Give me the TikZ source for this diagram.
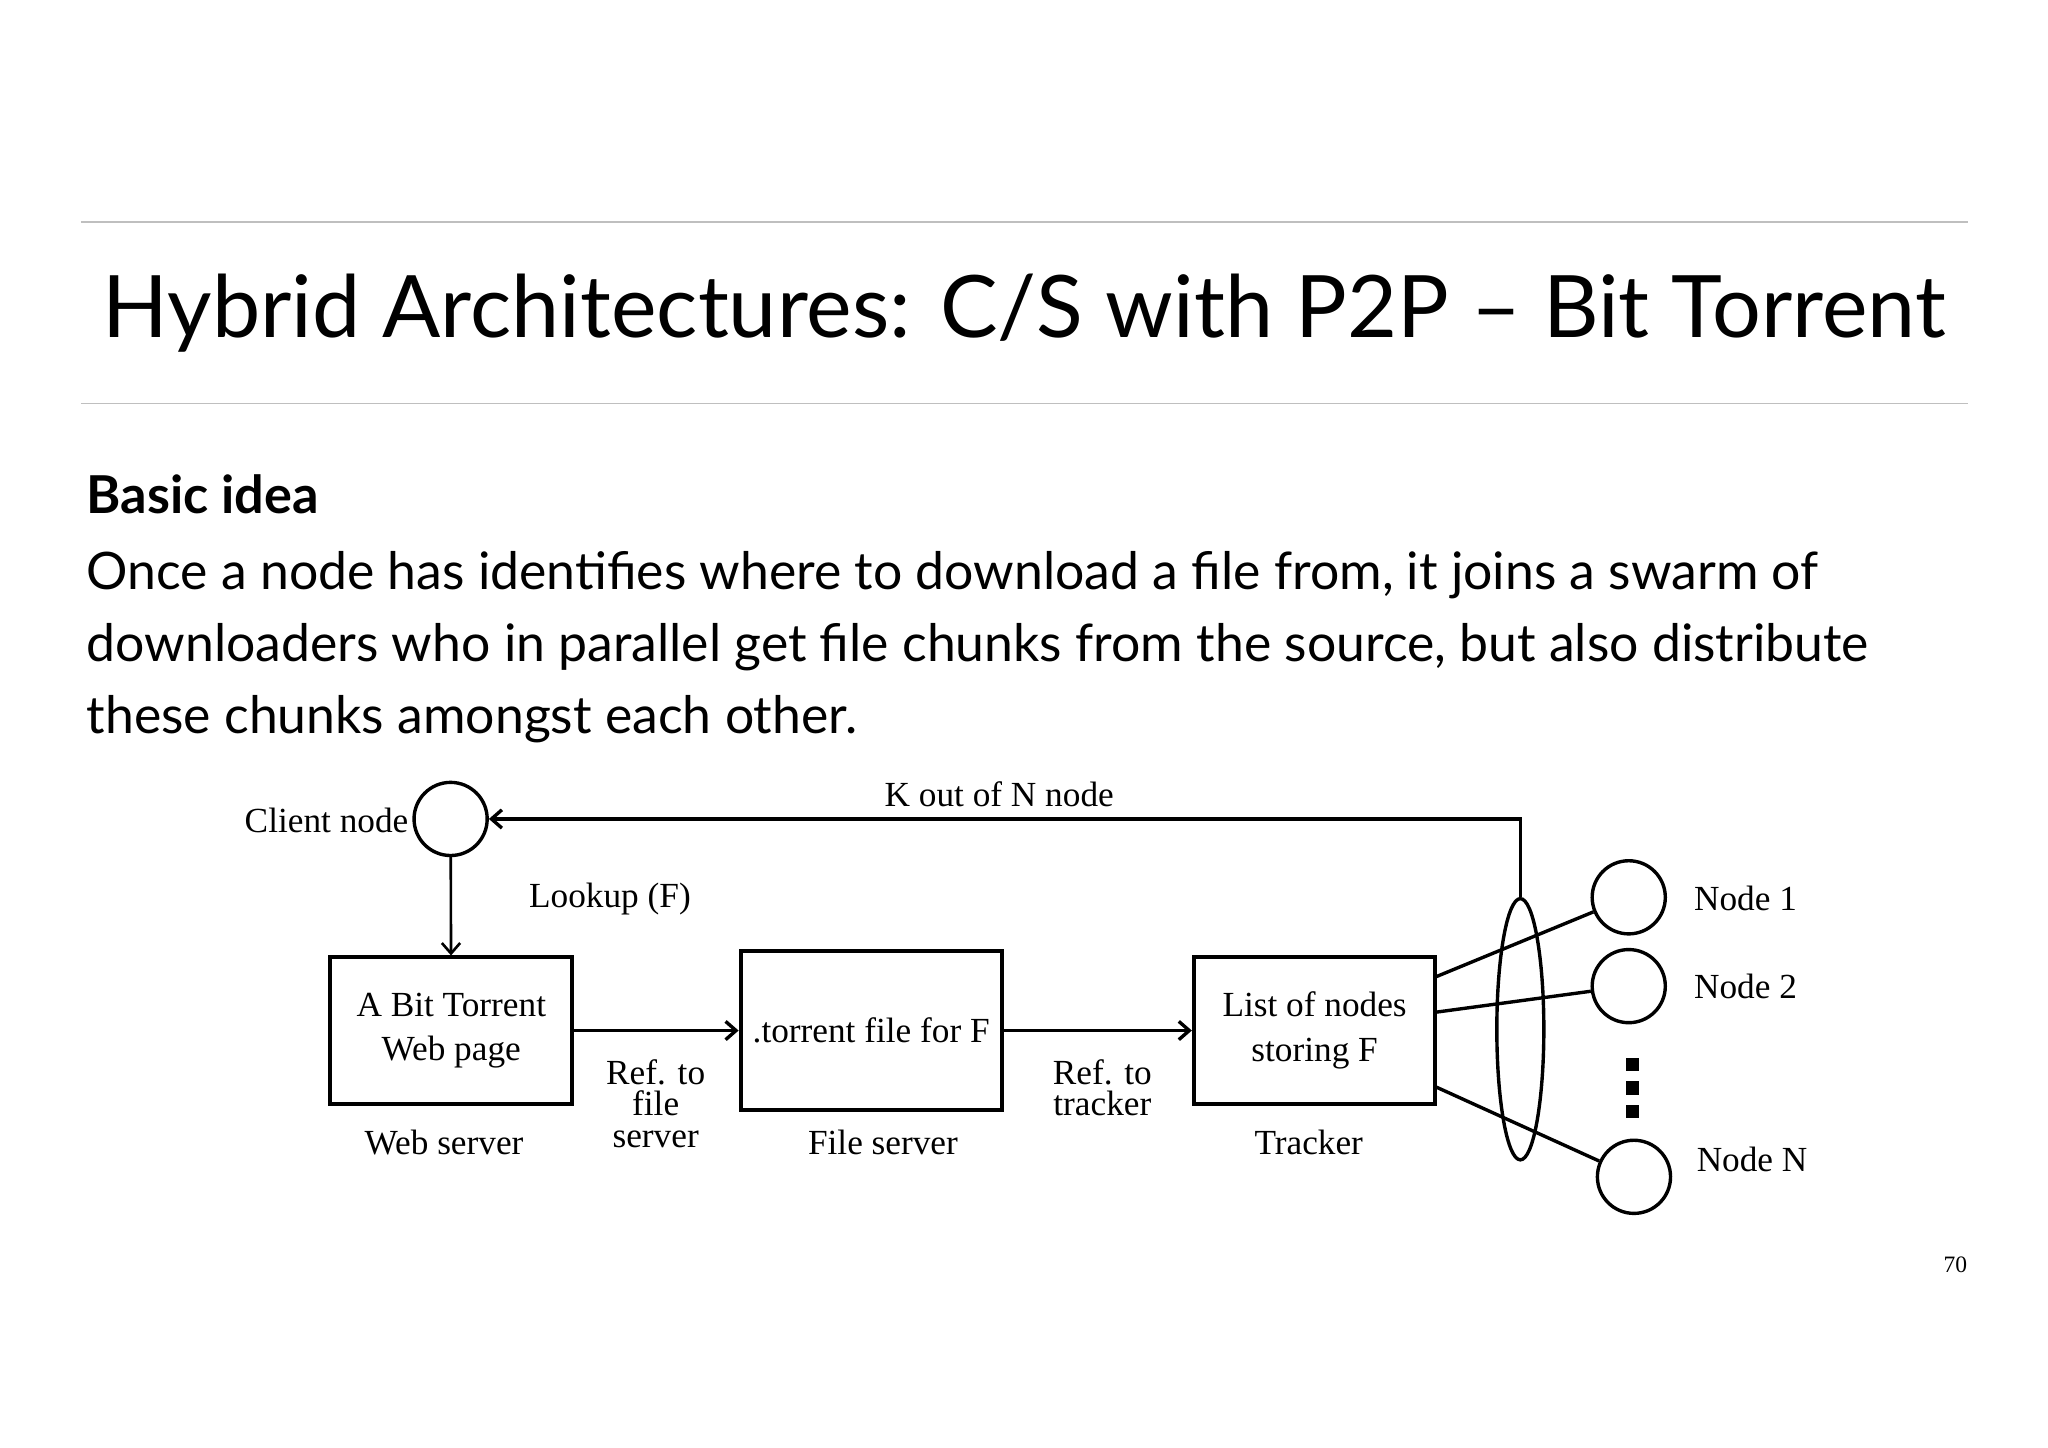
\documentclass[tikz,border=0pt]{standalone}
\usepackage{fontspec}
\usetikzlibrary{arrows.meta,shapes.geometric}
\setmainfont{Liberation Serif}
\newfontfamily\hum{Lato}
\begin{document}
\begin{tikzpicture}[x=0.5pt,y=-0.5pt,
  box/.style={draw,line width=1.5pt,minimum width=92.5pt,minimum height=56pt,align=center,inner sep=1pt,font=\fontsize{13.5}{17}\selectfont},
  circ/.style={draw,line width=1.3pt,circle,minimum size=28pt,inner sep=0pt},
  lab/.style={font=\fontsize{13.5}{12}\selectfont,align=center},
  arr/.style={line width=1.3pt,-{Straight Barb[length=4pt,width=7pt]}},
  con/.style={line width=1.3pt}]
\useasboundingbox (0,0) rectangle (1568,1108);
\draw[gray!50,line width=0.5pt] (62,170) -- (1507,170) (62,309) -- (1507,309);
\node[font=\hum\fontsize{33}{36}\selectfont] (title) at (784,240) {Hybrid Architectures: C/S with P2P – Bit Torrent};
\node[anchor=base west,inner sep=0pt,font=\hum\bfseries\fontsize{20}{22}\selectfont] (basic) at (66,393) {Basic idea};
\node[anchor=north west,inner sep=0pt,font=\hum\fontsize{19.8}{27.5}\selectfont,align=left] (body) at (66,422) {Once a node has identifies where to download a file from, it joins a swarm of\\downloaders who in parallel get file chunks from the source, but also distribute\\these chunks amongst each other.};
\node[circ] (client) at (345,627) {};
\node[lab,anchor=east,inner sep=1pt] (clientl) at (315,628) {Client node};
\node[box] (web) at (345.5,789) {A Bit Torrent\\Web page};
\node[box,minimum width=100pt,minimum height=61pt] (file) at (667,789) {.torrent file for F};
\node[box] (tracker) at (1006.5,789) {List of nodes\\storing F};
\draw[arr,line width=1pt] (client) -- (web);
\node[lab] (lookup) at (467,688) {Lookup (F)};
\draw[arr] (web.east) -- (file.west);
\draw[arr] (file.east) -- (tracker.west);
\node[lab,font=\fontsize{13.5}{12}\selectfont] (ref1) at (502,845) {Ref. to\\file\\server};
\node[lab,font=\fontsize{13.5}{12}\selectfont] (ref2) at (844,833) {Ref. to\\tracker};
\node[lab] (wsl) at (340,875) {Web server};
\node[lab] (fsl) at (676,875) {File server};
\node[lab] (trl) at (1002,875) {Tracker};
\node[draw,line width=1.3pt,ellipse,minimum width=18pt,minimum height=100pt,inner sep=0pt] (swarm) at (1164,788) {};
\coordinate (corner) at (1164,627);
\draw[arr] (swarm.north) -- (corner) -- (client.east);
\node[lab] (kout) at (765,608) {K out of N node};
\node[circ] (n1) at (1247,687) {};
\node[circ] (n2) at (1247,755) {};
\node[circ] (nn) at (1251,901) {};
\node[lab,anchor=west] (n1l) at (1290,688) {Node 1};
\node[lab,anchor=west] (n2l) at (1290,755) {Node 2};
\node[lab,anchor=west] (nnl) at (1292,888) {Node N};
\draw[con] (1099,748) -- (n1);
\draw[con] (1099,775) -- (n2);
\draw[con] (1099,832) -- (nn);
\foreach \yy in {815,833,851} \fill (1245,\yy-5) rectangle (1255,\yy+5);
\node[font=\fontsize{9}{10}\selectfont] (pg) at (1497,968) {70};
\end{tikzpicture}
\end{document}
